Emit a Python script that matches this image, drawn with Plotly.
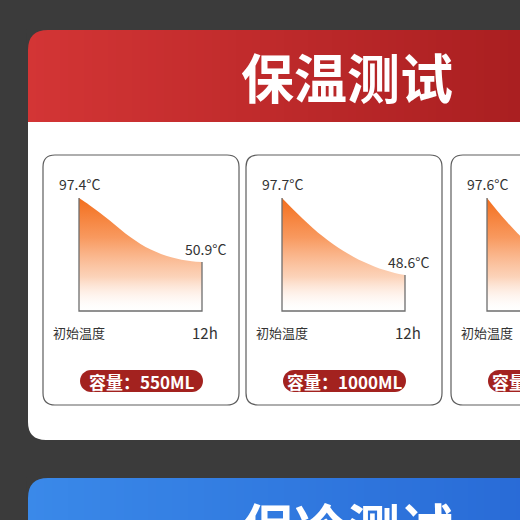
import plotly.graph_objects as go

W = H = 520

# ---------------- data ----------------
HOURS = list(range(13))
CAPACITIES = ["550ML", "1000ML", "1500ML"]
TEMP_550 = [97.4, 92.4, 86.9, 81.0, 74.9, 69.0, 64.0, 59.9, 56.7, 54.3, 52.6, 51.5, 50.9]
TEMP_1000 = [97.7, 91.0, 84.6, 78.6, 73.1, 68.2, 63.9, 60.1, 56.8, 54.0, 51.7, 49.9, 48.6]
TEMP_1500 = [97.6, 89.5, 82.0, 75.0, 69.0, 64.0, 60.0, 56.5, 53.5, 51.0, 49.0, 47.5, 46.5]
AXIS_FLOOR = [15.3, 25.6, 25.6]
START_LABEL = "初始温度"
END_LABEL = "12h"
CAP_PREFIX = "容量："
TITLE_HOT = "保温测试"
TITLE_COLD = "保冷测试"

# ---------------- style ----------------
BG = "#3b3b3b"
FONT = "Noto Sans CJK SC"
TXT = "#333333"
AXIS_GRAY = "#6e6e6e"
PILL = "#a3221f"


def fx(x):
    return x / W


def fy(y):
    return 1 - y / H


def P(x, y):
    return f"{fx(x):.5f},{fy(y):.5f}"


def rounded_rect(x0, y0, x1, y1, r):
    return (f"M {P(x0 + r, y0)} L {P(x1 - r, y0)} Q {P(x1, y0)} {P(x1, y0 + r)} "
            f"L {P(x1, y1 - r)} Q {P(x1, y1)} {P(x1 - r, y1)} "
            f"L {P(x0 + r, y1)} Q {P(x0, y1)} {P(x0, y1 - r)} "
            f"L {P(x0, y0 + r)} Q {P(x0, y0)} {P(x0 + r, y0)} Z")


def capsule(x0, y0, x1, y1):
    r = (y1 - y0) / 2
    cy = (y0 + y1) / 2
    k = r * 0.55
    return (f"M {P(x0 + r, y0)} L {P(x1 - r, y0)} "
            f"C {P(x1 - r + k, y0)} {P(x1, cy - k)} {P(x1, cy)} "
            f"C {P(x1, cy + k)} {P(x1 - r + k, y1)} {P(x1 - r, y1)} "
            f"L {P(x0 + r, y1)} "
            f"C {P(x0 + r - k, y1)} {P(x0, cy + k)} {P(x0, cy)} "
            f"C {P(x0, cy - k)} {P(x0 + r - k, y0)} {P(x0 + r, y0)} Z")


def lerp_col(c0, c1, t):
    return "rgb(%d,%d,%d)" % tuple(round(a + (b - a) * t) for a, b in zip(c0, c1))


shapes = []
annotations = []


def gradient_band(x0, x1, y0, y1, c0, c1, n=64):
    step = (x1 - x0) / n
    for i in range(n):
        xa = x0 + i * step
        shapes.append(dict(type="rect", xref="paper", yref="paper",
                           x0=fx(xa), x1=fx(min(xa + step + 1, x1)),
                           y0=fy(y1), y1=fy(y0), line=dict(width=0),
                           fillcolor=lerp_col(c0, c1, (i + 0.5) / n), layer="below"))


# white body with rounded bottom-left
shapes.append(dict(type="path", xref="paper", yref="paper", layer="below",
                   path=(f"M {P(28, 121)} L {P(560, 121)} L {P(560, 440)} L {P(46, 440)} "
                         f"Q {P(28, 440)} {P(28, 422)} Z"),
                   fillcolor="white", line=dict(width=0)))
# red header gradient
gradient_band(28, 540, 30, 122, (211, 53, 53), (168, 30, 32))
shapes.append(dict(type="path", xref="paper", yref="paper", layer="below",
                   path=f"M {P(27, 29)} L {P(48, 29)} L {P(48, 30)} Q {P(28, 30)} {P(28, 50)} L {P(27, 50)} Z",
                   fillcolor=BG, line=dict(width=0)))
# blue header gradient (next section)
gradient_band(28, 540, 478, 530, (58, 137, 233), (40, 106, 214))
shapes.append(dict(type="path", xref="paper", yref="paper", layer="below",
                   path=f"M {P(27, 477)} L {P(48, 477)} L {P(48, 478)} Q {P(28, 478)} {P(28, 498)} L {P(27, 498)} Z",
                   fillcolor=BG, line=dict(width=0)))

annotations.append(dict(text=f"<b>{TITLE_HOT}</b>", xref="paper", yref="paper",
                        x=fx(347), y=fy(76), xanchor="center", yanchor="middle", showarrow=False,
                        font=dict(family=FONT, size=53, color="white")))
annotations.append(dict(text=f"<b>{TITLE_COLD}</b>", xref="paper", yref="paper",
                        x=fx(347), y=fy(526), xanchor="center", yanchor="middle", showarrow=False,
                        font=dict(family=FONT, size=53, color="white")))

# ---------------- charts ----------------
SERIES = [TEMP_550, TEMP_1000, TEMP_1500]
LEFT_PX = [79, 282, 487]
SPAN = 123
BASE = 311
TOP = 198
PAD = 6

fig = go.Figure()
layout_axes = {}

for i, (temps, floor, cap, L) in enumerate(zip(SERIES, AXIS_FLOOR, CAPACITIES, LEFT_PX)):
    n = i + 1
    xs = "" if n == 1 else str(n)
    xref, yref = f"x{xs}", f"y{xs}"
    pph = SPAN / 12
    x0p = L - PAD
    x1p = min(L + SPAN + PAD, W)
    s = (BASE - TOP) / (temps[0] - floor)
    ytop_p = TOP - 20
    layout_axes[f"xaxis{xs}"] = dict(domain=[fx(x0p), fx(x1p)],
                                     range=[(x0p - L) / pph, (x1p - L) / pph],
                                     visible=False, fixedrange=True, anchor=yref)
    layout_axes[f"yaxis{xs}"] = dict(domain=[fy(BASE + PAD), fy(ytop_p)],
                                     range=[floor - PAD / s, floor + (BASE - ytop_p) / s],
                                     visible=False, fixedrange=True, anchor=xref)

    # card outline
    shapes.append(dict(type="path", xref="paper", yref="paper", layer="below",
                       path=rounded_rect(L - 36, 155, L + SPAN + 37, 405, 12),
                       fillcolor="white", line=dict(color="#5e5e5e", width=1.2)))

    fig.add_trace(go.Scatter(x=HOURS, y=[floor] * len(HOURS), mode="lines",
                             line=dict(width=0), hoverinfo="skip", showlegend=False,
                             xaxis=xref, yaxis=yref))
    fig.add_trace(go.Scatter(x=HOURS, y=temps, mode="lines",
                             line=dict(width=0, shape="spline", smoothing=1.0),
                             fill="tonexty",
                             fillgradient=dict(type="vertical", start=floor, stop=temps[0],
                                               colorscale=[[0, "rgba(255,245,240,0)"],
                                                           [0.3, "rgba(251,200,168,0.8)"],
                                                           [0.65, "rgba(248,150,90,0.97)"],
                                                           [1, "rgba(243,110,28,1)"]]),
                             showlegend=False, hoverinfo="skip", xaxis=xref, yaxis=yref))
    fig.add_trace(go.Scatter(x=[HOURS[0], HOURS[0], HOURS[-1], HOURS[-1]],
                             y=[temps[0], floor, floor, temps[-1]], mode="lines",
                             line=dict(color=AXIS_GRAY, width=1.3),
                             showlegend=False, hoverinfo="skip", xaxis=xref, yaxis=yref))

    lab_font = dict(family=FONT, size=14, color=TXT)
    annotations.append(dict(text=f"{temps[0]}°C", xref=xref, yref=yref, x=HOURS[0], y=temps[0],
                            yshift=14, xanchor="center", yanchor="middle", showarrow=False,
                            font=lab_font))
    if L + SPAN < W:
        annotations.append(dict(text=f"{temps[-1]}°C", xref=xref, yref=yref, x=HOURS[-1],
                                y=temps[-1], xshift=3, yshift=13, xanchor="center",
                                yanchor="middle", showarrow=False, font=lab_font))
        annotations.append(dict(text=END_LABEL, xref=xref, yref="paper", x=HOURS[-1], xshift=3,
                                y=fy(332), xanchor="center", yanchor="middle", showarrow=False,
                                font=dict(family=FONT, size=15, color=TXT)))
    annotations.append(dict(text=START_LABEL, xref=xref, yref="paper", x=HOURS[0],
                            y=fy(332), xanchor="center", yanchor="middle", showarrow=False,
                            font=dict(family=FONT, size=13, color=TXT)))
    # capacity pill
    shapes.append(dict(type="path", xref="paper", yref="paper", layer="above",
                       path=capsule(L + 1, 370, L + SPAN + 1, 392),
                       fillcolor=PILL, line=dict(width=0)))
    annotations.append(dict(text=f"<b>{CAP_PREFIX}{cap}</b>", xref="paper", yref="paper",
                            x=fx(L + 1 + SPAN / 2), y=fy(381.5), xanchor="center",
                            yanchor="middle", showarrow=False,
                            font=dict(family=FONT, size=17, color="white")))

fig.update_layout(width=W, height=H, margin=dict(l=0, r=0, t=0, b=0),
                  paper_bgcolor=BG, plot_bgcolor="rgba(0,0,0,0)",
                  shapes=shapes, annotations=annotations, showlegend=False,
                  **layout_axes)

fig.write_html("out.html", config={"displayModeBar": False},
               post_script="document.body.style.margin='0';document.body.style.background='#3b3b3b';")
